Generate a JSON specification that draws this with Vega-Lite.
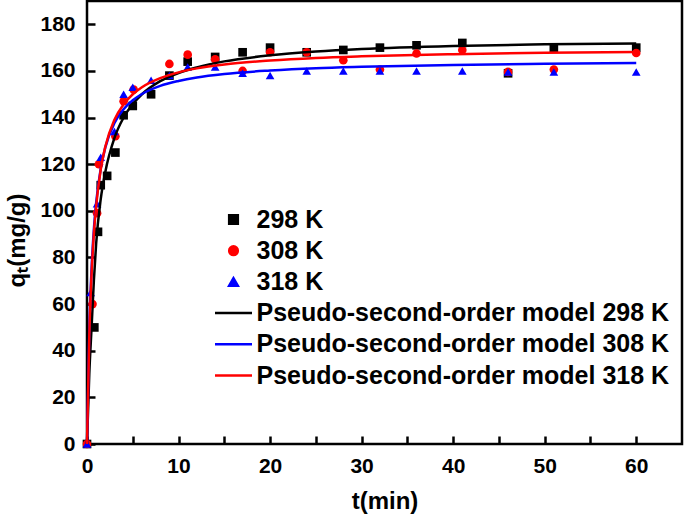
{
  "$schema": "https://vega.github.io/schema/vega-lite/v6.json",
  "width": 595,
  "height": 443,
  "autosize": {"type": "none"},
  "padding": {"left": 87, "top": 1, "right": 3, "bottom": 78},
  "config": {
    "font": "Liberation Sans",
    "view": {"stroke": "black", "strokeWidth": 2.5},
    "axis": {
      "labelFont": "Liberation Sans", "labelFontWeight": "bold", "labelFontSize": 21, "labelColor": "black",
      "titleFont": "Liberation Sans", "titleFontWeight": "bold", "titleFontSize": 24, "titleColor": "black",
      "grid": false, "domain": false, "tickColor": "black", "tickWidth": 2.5, "labelFlush": false
    }
  },
  "datasets": {
    "pts": [
      {"t": 0, "q": 0, "series": "298 K"},
      {"t": 0.8, "q": 50, "series": "298 K"},
      {"t": 1.2, "q": 91, "series": "298 K"},
      {"t": 1.5, "q": 111, "series": "298 K"},
      {"t": 2.2, "q": 115, "series": "298 K"},
      {"t": 3.1, "q": 125, "series": "298 K"},
      {"t": 4, "q": 141, "series": "298 K"},
      {"t": 5, "q": 145, "series": "298 K"},
      {"t": 7, "q": 150, "series": "298 K"},
      {"t": 9, "q": 158, "series": "298 K"},
      {"t": 11, "q": 164, "series": "298 K"},
      {"t": 14, "q": 166, "series": "298 K"},
      {"t": 17, "q": 168, "series": "298 K"},
      {"t": 20, "q": 170, "series": "298 K"},
      {"t": 24, "q": 168, "series": "298 K"},
      {"t": 28, "q": 169, "series": "298 K"},
      {"t": 32, "q": 170, "series": "298 K"},
      {"t": 36, "q": 171, "series": "298 K"},
      {"t": 41, "q": 172, "series": "298 K"},
      {"t": 46, "q": 159, "series": "298 K"},
      {"t": 51, "q": 170, "series": "298 K"},
      {"t": 60, "q": 170, "series": "298 K"},
      {"t": 0, "q": 0, "series": "308 K"},
      {"t": 0.6, "q": 60, "series": "308 K"},
      {"t": 1.1, "q": 99, "series": "308 K"},
      {"t": 1.3, "q": 120, "series": "308 K"},
      {"t": 3.1, "q": 132, "series": "308 K"},
      {"t": 4, "q": 147, "series": "308 K"},
      {"t": 5.1, "q": 152, "series": "308 K"},
      {"t": 9, "q": 163, "series": "308 K"},
      {"t": 11, "q": 167, "series": "308 K"},
      {"t": 14, "q": 165, "series": "308 K"},
      {"t": 17, "q": 160, "series": "308 K"},
      {"t": 20, "q": 168, "series": "308 K"},
      {"t": 24, "q": 168, "series": "308 K"},
      {"t": 28, "q": 164.6, "series": "308 K"},
      {"t": 32, "q": 160.6, "series": "308 K"},
      {"t": 36, "q": 167.5, "series": "308 K"},
      {"t": 41, "q": 169, "series": "308 K"},
      {"t": 46, "q": 159.6, "series": "308 K"},
      {"t": 51, "q": 160.6, "series": "308 K"},
      {"t": 60, "q": 167.7, "series": "308 K"},
      {"t": 0, "q": 0, "series": "318 K"},
      {"t": 0.4, "q": 65, "series": "318 K"},
      {"t": 1.1, "q": 103, "series": "318 K"},
      {"t": 1.5, "q": 123, "series": "318 K"},
      {"t": 3, "q": 134, "series": "318 K"},
      {"t": 4, "q": 150, "series": "318 K"},
      {"t": 5, "q": 153, "series": "318 K"},
      {"t": 7, "q": 156, "series": "318 K"},
      {"t": 9, "q": 158, "series": "318 K"},
      {"t": 11, "q": 161.7, "series": "318 K"},
      {"t": 14, "q": 161.7, "series": "318 K"},
      {"t": 17, "q": 159, "series": "318 K"},
      {"t": 20, "q": 158, "series": "318 K"},
      {"t": 24, "q": 160, "series": "318 K"},
      {"t": 28, "q": 160, "series": "318 K"},
      {"t": 32, "q": 160, "series": "318 K"},
      {"t": 36, "q": 160, "series": "318 K"},
      {"t": 41, "q": 160, "series": "318 K"},
      {"t": 46, "q": 159.6, "series": "318 K"},
      {"t": 51, "q": 159.6, "series": "318 K"},
      {"t": 60, "q": 159.6, "series": "318 K"}
    ],
    "fit": [
      {"t": 0, "q": 0, "series": "Pseudo-second-order model 298 K"},
      {"t": 0.25, "q": 30, "series": "Pseudo-second-order model 298 K"},
      {"t": 0.5, "q": 50, "series": "Pseudo-second-order model 298 K"},
      {"t": 0.75, "q": 70, "series": "Pseudo-second-order model 298 K"},
      {"t": 1, "q": 86, "series": "Pseudo-second-order model 298 K"},
      {"t": 1.5, "q": 105, "series": "Pseudo-second-order model 298 K"},
      {"t": 2, "q": 116.7, "series": "Pseudo-second-order model 298 K"},
      {"t": 3, "q": 131.3, "series": "Pseudo-second-order model 298 K"},
      {"t": 4, "q": 140, "series": "Pseudo-second-order model 298 K"},
      {"t": 5, "q": 145.8, "series": "Pseudo-second-order model 298 K"},
      {"t": 6, "q": 150, "series": "Pseudo-second-order model 298 K"},
      {"t": 8, "q": 155.6, "series": "Pseudo-second-order model 298 K"},
      {"t": 10, "q": 159.1, "series": "Pseudo-second-order model 298 K"},
      {"t": 12, "q": 161.5, "series": "Pseudo-second-order model 298 K"},
      {"t": 15, "q": 164.1, "series": "Pseudo-second-order model 298 K"},
      {"t": 20, "q": 166.7, "series": "Pseudo-second-order model 298 K"},
      {"t": 25, "q": 168.3, "series": "Pseudo-second-order model 298 K"},
      {"t": 30, "q": 169.4, "series": "Pseudo-second-order model 298 K"},
      {"t": 40, "q": 170.7, "series": "Pseudo-second-order model 298 K"},
      {"t": 50, "q": 171.4, "series": "Pseudo-second-order model 298 K"},
      {"t": 60, "q": 171.8, "series": "Pseudo-second-order model 298 K"},
      {"t": 0, "q": 0, "series": "Pseudo-second-order model 308 K"},
      {"t": 0.25, "q": 48.8, "series": "Pseudo-second-order model 308 K"},
      {"t": 0.5, "q": 75.3, "series": "Pseudo-second-order model 308 K"},
      {"t": 0.75, "q": 92, "series": "Pseudo-second-order model 308 K"},
      {"t": 1, "q": 103.4, "series": "Pseudo-second-order model 308 K"},
      {"t": 1.5, "q": 118.1, "series": "Pseudo-second-order model 308 K"},
      {"t": 2, "q": 127.2, "series": "Pseudo-second-order model 308 K"},
      {"t": 3, "q": 137.7, "series": "Pseudo-second-order model 308 K"},
      {"t": 4, "q": 143.6, "series": "Pseudo-second-order model 308 K"},
      {"t": 5, "q": 147.4, "series": "Pseudo-second-order model 308 K"},
      {"t": 6, "q": 150.1, "series": "Pseudo-second-order model 308 K"},
      {"t": 8, "q": 153.6, "series": "Pseudo-second-order model 308 K"},
      {"t": 10, "q": 155.7, "series": "Pseudo-second-order model 308 K"},
      {"t": 12, "q": 157.2, "series": "Pseudo-second-order model 308 K"},
      {"t": 15, "q": 158.7, "series": "Pseudo-second-order model 308 K"},
      {"t": 20, "q": 160.2, "series": "Pseudo-second-order model 308 K"},
      {"t": 25, "q": 161.2, "series": "Pseudo-second-order model 308 K"},
      {"t": 30, "q": 161.8, "series": "Pseudo-second-order model 308 K"},
      {"t": 40, "q": 162.6, "series": "Pseudo-second-order model 308 K"},
      {"t": 50, "q": 163.1, "series": "Pseudo-second-order model 308 K"},
      {"t": 60, "q": 163.4, "series": "Pseudo-second-order model 308 K"},
      {"t": 0, "q": 0, "series": "Pseudo-second-order model 318 K"},
      {"t": 0.25, "q": 46.4, "series": "Pseudo-second-order model 318 K"},
      {"t": 0.5, "q": 72.9, "series": "Pseudo-second-order model 318 K"},
      {"t": 0.75, "q": 90, "series": "Pseudo-second-order model 318 K"},
      {"t": 1, "q": 102, "series": "Pseudo-second-order model 318 K"},
      {"t": 1.5, "q": 117.7, "series": "Pseudo-second-order model 318 K"},
      {"t": 2, "q": 127.5, "series": "Pseudo-second-order model 318 K"},
      {"t": 3, "q": 139.1, "series": "Pseudo-second-order model 318 K"},
      {"t": 4, "q": 145.7, "series": "Pseudo-second-order model 318 K"},
      {"t": 5, "q": 150, "series": "Pseudo-second-order model 318 K"},
      {"t": 6, "q": 153, "series": "Pseudo-second-order model 318 K"},
      {"t": 8, "q": 156.9, "series": "Pseudo-second-order model 318 K"},
      {"t": 10, "q": 159.4, "series": "Pseudo-second-order model 318 K"},
      {"t": 12, "q": 161.1, "series": "Pseudo-second-order model 318 K"},
      {"t": 15, "q": 162.8, "series": "Pseudo-second-order model 318 K"},
      {"t": 20, "q": 164.5, "series": "Pseudo-second-order model 318 K"},
      {"t": 25, "q": 165.6, "series": "Pseudo-second-order model 318 K"},
      {"t": 30, "q": 166.3, "series": "Pseudo-second-order model 318 K"},
      {"t": 40, "q": 167.2, "series": "Pseudo-second-order model 318 K"},
      {"t": 50, "q": 167.8, "series": "Pseudo-second-order model 318 K"},
      {"t": 60, "q": 168.1, "series": "Pseudo-second-order model 318 K"}
    ]
  },
  "layer": [
    {
      "data": {"name": "pts"},
      "mark": {"type": "point", "filled": true, "opacity": 1},
      "encoding": {
        "x": {
          "field": "t", "type": "quantitative",
          "scale": {"domain": [0, 65], "nice": false, "zero": false},
          "axis": {
            "title": "t(min)",
            "values": [0, 5, 10, 15, 20, 25, 30, 35, 40, 45, 50, 55, 60],
            "labelExpr": "datum.value % 10 === 0 ? datum.label : ''",
            "tickSize": -8,
            "labelPadding": 19,
            "titlePadding": 13,
            "encode": {"ticks": {"update": {"y2": {"signal": "datum.value % 10 === 0 ? -8 : -5"}}}}
          }
        },
        "y": {
          "field": "q", "type": "quantitative",
          "scale": {"domain": [0, 190], "nice": false, "zero": false},
          "axis": {
            "title": "qₜ(mg/g)",
            "values": [0, 20, 40, 60, 80, 100, 120, 140, 160, 180],
            "tickSize": -8,
            "labelPadding": 20,
            "titlePadding": 10,
            "titleY": 239
          }
        },
        "color": {
          "field": "series", "type": "ordinal",
          "scale": {
            "domain": ["298 K", "308 K", "318 K", "Pseudo-second-order model 298 K", "Pseudo-second-order model 308 K", "Pseudo-second-order model 318 K"],
            "range": ["#000000", "#ff0000", "#0000ff", "#000000", "#0000ff", "#ff0000"]
          },
          "legend": {
            "title": null, "orient": "none", "legendX": 126.5, "legendY": 206, "padding": 0,
            "labelFontSize": 25, "labelFontWeight": "bold", "labelColor": "black", "labelOffset": 3,
            "rowPadding": 5.2, "labelLimit": 600, "clipHeight": 25, "symbolStrokeWidth": 2.5, "symbolOpacity": 1
          }
        },
        "shape": {
          "field": "series", "type": "ordinal",
          "scale": {
            "domain": ["298 K", "308 K", "318 K", "Pseudo-second-order model 298 K", "Pseudo-second-order model 308 K", "Pseudo-second-order model 318 K"],
            "range": ["square", "circle", "triangle-up", "stroke", "stroke", "stroke"]
          },
          "legend": {
            "title": null, "orient": "none", "legendX": 126.5, "legendY": 206, "padding": 0,
            "labelFontSize": 25, "labelFontWeight": "bold", "labelColor": "black", "labelOffset": 3,
            "rowPadding": 5.2, "labelLimit": 600, "clipHeight": 25, "symbolStrokeWidth": 2.5, "symbolOpacity": 1
          }
        },
        "size": {
          "field": "series", "type": "ordinal",
          "scale": {
            "type": "ordinal",
            "domain": ["298 K", "308 K", "318 K", "Pseudo-second-order model 298 K", "Pseudo-second-order model 308 K", "Pseudo-second-order model 318 K"],
            "range": [75, 75, 75, 1369, 1369, 1369]
          },
          "legend": {
            "title": null, "orient": "none", "legendX": 126.5, "legendY": 206, "padding": 0,
            "labelFontSize": 25, "labelFontWeight": "bold", "labelColor": "black", "labelOffset": 3,
            "rowPadding": 5.2, "labelLimit": 600, "clipHeight": 25, "symbolStrokeWidth": 2.5, "symbolOpacity": 1
          }
        }
      }
    },
    {
      "data": {"name": "fit"},
      "mark": {"type": "line", "strokeWidth": 2.5, "interpolate": "monotone"},
      "encoding": {
        "x": {"field": "t", "type": "quantitative"},
        "y": {"field": "q", "type": "quantitative"},
        "color": {"field": "series", "type": "ordinal", "legend": null}
      }
    }
  ]
}
